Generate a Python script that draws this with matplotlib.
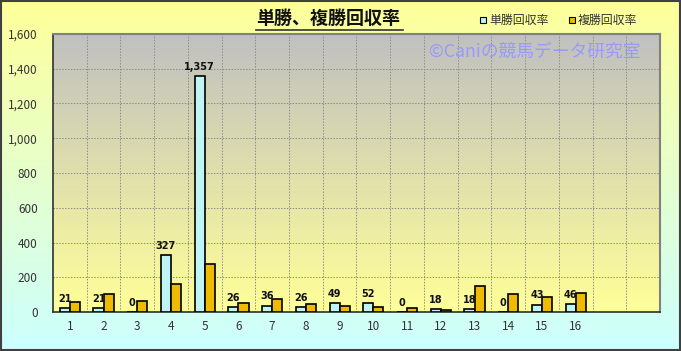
import numpy as np
import matplotlib
matplotlib.use("Agg")
import matplotlib.pyplot as plt
from matplotlib.colors import LinearSegmentedColormap
from matplotlib.patches import Rectangle

plt.rcParams['font.family'] = ['Noto Sans CJK JP', 'DejaVu Sans']

categories = ["1", "2", "3", "4", "5", "6", "7", "8", "9", "10", "11", "12", "13", "14", "15", "16", "", ""]
tansho = [21, 21, 0, 327, 1357, 26, 36, 26, 49, 52, 0, 18, 18, 0, 43, 46]
fukusho = [58, 104, 62, 164, 279, 52, 77, 44, 33, 29, 25, 12, 148, 102, 89, 112]
yticks = [0, 200, 400, 600, 800, 1000, 1200, 1400, 1600]
title = "単勝、複勝回収率"
series_names = ["単勝回収率", "複勝回収率"]
watermark = "©Caniの競馬データ研究室"

W, H = 681, 351
fig = plt.figure(figsize=(W / 100, H / 100), dpi=100)

# figure background gradient
bg = fig.add_axes([0, 0, 1, 1], zorder=-10)
cmap_bg = LinearSegmentedColormap.from_list("bg", ["#FFFF99", "#CCFFFF"])
bg.imshow(np.linspace(0, 1, 256).reshape(-1, 1), aspect="auto", cmap=cmap_bg,
          extent=[0, 1, 0, 1], origin="upper")
bg.set_axis_off()
bg.add_patch(Rectangle((0.0015, 0.003), 0.997, 0.994, transform=bg.transAxes,
                       fill=False, edgecolor="#404040", linewidth=1.5))

ax = fig.add_axes([53 / W, 1 - 312 / H, (660 - 53) / W, (312 - 34) / H])
n = len(categories)
x = np.arange(n)
ax.set_xlim(-0.5, n - 0.5)
ax.set_ylim(0, 1600)

cmap_pl = LinearSegmentedColormap.from_list("pl", ["#C0C0C0", "#FFFF99"])
ax.imshow(np.linspace(0, 1, 256).reshape(-1, 1), aspect="auto", cmap=cmap_pl,
          extent=[-0.5, n - 0.5, 0, 1600], origin="upper", zorder=0)

for yv in yticks[1:]:
    ax.axhline(yv, color="#8C8C8C", linestyle=(0, (1.5, 1.5)), linewidth=0.7, zorder=1)
for xv in np.arange(0.5, n - 0.5, 1):
    ax.axvline(xv, color="#8C8C8C", linestyle=(0, (1.5, 1.5)), linewidth=0.7, zorder=1)

bw = 0.3
xs = np.arange(len(tansho))
ax.bar(xs - bw / 2, tansho, width=bw, color="#BFF5F5", edgecolor="black", linewidth=1.2, zorder=3)
ax.bar(xs + bw / 2, fukusho, width=bw, color="#EEBB00", edgecolor="black", linewidth=1.2, zorder=3)

for xi, v in zip(xs, tansho):
    ax.text(xi - bw / 2, v + 25, f"{v:,}", ha="center", va="bottom", fontsize=7,
            fontweight="bold", family="DejaVu Sans", color="#111111", zorder=4)

ax.set_xticks(x)
ax.set_xticklabels(categories, fontsize=8.5)
ax.set_yticks(yticks)
ax.set_yticklabels([f"{v:,}" for v in yticks], fontsize=8.5)
ax.tick_params(axis="both", length=0, pad=6, colors="#333333")
ax.tick_params(axis="y", pad=11)
for s in ["top", "right"]:
    ax.spines[s].set_color("#808080")
    ax.spines[s].set_linewidth(1.5)
for s in ["left", "bottom"]:
    ax.spines[s].set_color("#303030")
    ax.spines[s].set_linewidth(1.2)

fig.text(640 / W, 1 - 52 / H, watermark, ha="right", va="center",
         fontsize=12.8, color="#9999FF", zorder=5)

fig.text(328 / W, 1 - 18 / H, title, ha="center", va="center", fontsize=13,
         fontweight="bold", color="#111111")
fig.add_artist(plt.Line2D([256 / W, 403 / W], [1 - 29.5 / H] * 2, color="#333333", linewidth=1.2))

# legend
leg_items = [(483, "#BFF5F5", series_names[0]), (572, "#EEBB00", series_names[1])]
for lx, c, name in leg_items:
    fig.add_artist(Rectangle((lx / W - 3 / W, 1 - 23 / H), 6 / W, 6 / H, transform=fig.transFigure,
                             facecolor=c, edgecolor="black", linewidth=0.8))
    fig.text((lx + 6) / W, 1 - 20 / H, name, ha="left", va="center", fontsize=8.6, color="#333333")

fig.savefig("out.png", dpi=100)
